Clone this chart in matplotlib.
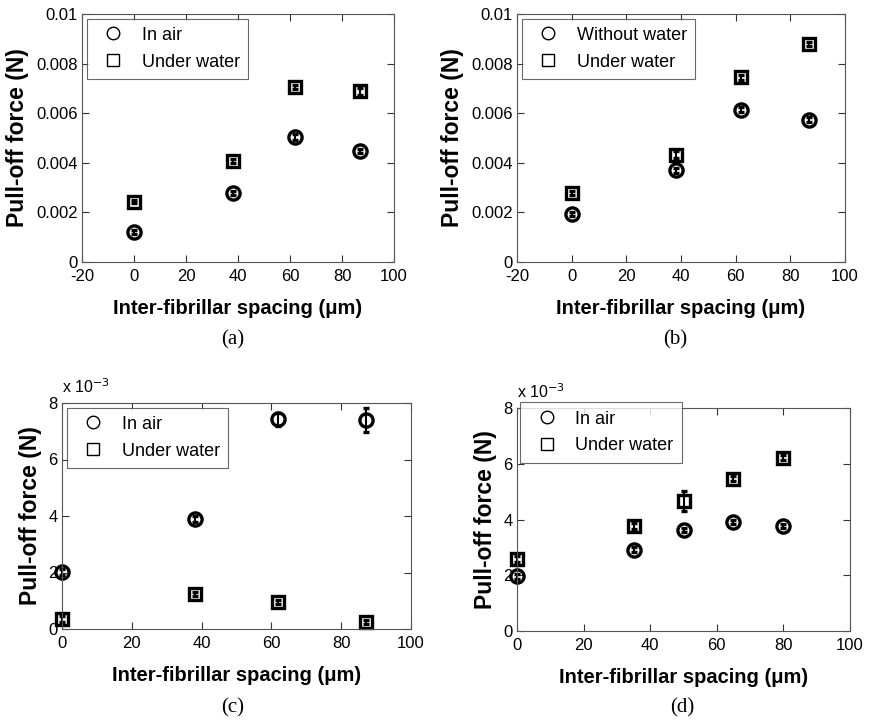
import matplotlib.pyplot as plt
import numpy as np

plt.rcParams['font.family'] = ['Liberation Sans', 'DejaVu Sans']
plt.rcParams['axes.unicode_minus'] = False

# -----------------------
# Data
# -----------------------
# (a)  force in N
xa = np.array([0, 38, 62, 87])
air_a = np.array([0.00121, 0.00280, 0.00505, 0.00446])
air_a_err = np.array([0.00008, 0.00008, 0.00012, 0.00008])
wat_a = np.array([0.00242, 0.00407, 0.00706, 0.00689])
wat_a_err = np.array([0.00006, 0.00008, 0.00008, 0.00014])

# (b)  force in N
xb = np.array([0, 38, 62, 87])
air_b = np.array([0.00193, 0.00369, 0.00613, 0.00573])
air_b_err = np.array([0.00008, 0.00012, 0.00010, 0.00010])
wat_b = np.array([0.00278, 0.00432, 0.00744, 0.00879])
wat_b_err = np.array([0.00008, 0.00014, 0.00012, 0.00010])

# (c)  force in 1e-3 N
xc = np.array([0, 38, 62, 87])
air_c = np.array([2.01, 3.90, 7.42, 7.40])
air_c_err = np.array([0.10, 0.10, 0.22, 0.43])
wat_c = np.array([0.36, 1.24, 0.96, 0.24])
wat_c_err = np.array([0.10, 0.08, 0.06, 0.08])

# (d)  force in 1e-3 N
xd = np.array([0, 35, 50, 65, 80])
air_d = np.array([1.96, 2.92, 3.62, 3.92, 3.77])
air_d_err = np.array([0.08, 0.08, 0.08, 0.08, 0.08])
wat_d = np.array([2.58, 3.77, 4.66, 5.47, 6.22])
wat_d_err = np.array([0.10, 0.10, 0.35, 0.08, 0.10])

W, H = 871, 721


def rect(l, t, r, b):
    return [l / W, 1 - b / H, (r - l) / W, (b - t) / H]


fig = plt.figure(figsize=(W / 100, H / 100), dpi=100)

panels = [
    (rect(82, 14, 394, 262), xa, air_a, air_a_err, wat_a, wat_a_err, 'In air',
     (-20, 100), (0, 0.01), [0, 0.002, 0.004, 0.006, 0.008, 0.01],
     ['0', '0.002', '0.004', '0.006', '0.008', '0.01'], '(a)', (233, 340), False),
    (rect(517, 14, 845, 262), xb, air_b, air_b_err, wat_b, wat_b_err, 'Without water',
     (-20, 100), (0, 0.01), [0, 0.002, 0.004, 0.006, 0.008, 0.01],
     ['0', '0.002', '0.004', '0.006', '0.008', '0.01'], '(b)', (675, 340), False),
    (rect(62, 403, 411, 629), xc, air_c, air_c_err, wat_c, wat_c_err, 'In air',
     (0, 100), (0, 8), [0, 2, 4, 6, 8], ['0', '2', '4', '6', '8'], '(c)', (233, 708), True),
    (rect(517, 408, 850, 631), xd, air_d, air_d_err, wat_d, wat_d_err, 'In air',
     (0, 100), (0, 8), [0, 2, 4, 6, 8], ['0', '2', '4', '6', '8'], '(d)', (682, 708), True),
]

for (r, x, air, air_err, wat, wat_err, lab, xl, yl, yt, ytl, cap, cpos, exp) in panels:
    ax = fig.add_axes(r)
    ax.errorbar(x, wat, yerr=wat_err, fmt='s', color='black', mfc='none',
                mec='black', ms=8.5, mew=2.4, capsize=2, elinewidth=1.5, clip_on=False)
    ax.errorbar(x, air, yerr=air_err, fmt='o', color='black', mfc='none',
                mec='black', ms=9.5, mew=2.4, capsize=2, elinewidth=1.5, clip_on=False)
    ax.set_xlim(*xl)
    ax.set_ylim(*yl)
    ax.set_xticks(np.arange(xl[0], xl[1] + 1, 20))
    ax.set_yticks(yt)
    ax.set_yticklabels(ytl)
    ax.tick_params(direction='in', top=True, right=True, length=5, labelsize=12,
                   color='#333333')
    ax.tick_params(axis='x', pad=5)
    ax.tick_params(axis='y', pad=3)
    for s in ax.spines.values():
        s.set_color('#555555')
        s.set_linewidth(0.8)
    ax.set_xlabel('Inter-fibrillar spacing (\u03bcm)', fontsize=14.5, fontweight='bold', labelpad=11)
    ax.set_ylabel('Pull-off force (N)', fontsize=16.5, fontweight='bold', labelpad=5)

    h1 = plt.Line2D([], [], ls='none', marker='o', mfc='none', mec='black', ms=9, mew=1)
    h2 = plt.Line2D([], [], ls='none', marker='s', mfc='none', mec='black', ms=8, mew=1)
    if cap == '(d)':
        leg = ax.legend([h1, h2], [lab, 'Under water'], loc='upper left',
                        bbox_to_anchor=(0.01, 1.025), fontsize=13, frameon=True,
                        fancybox=False, edgecolor='#444444', borderaxespad=0,
                        handletextpad=0.6, borderpad=0.45, labelspacing=0.55)
    else:
        leg = ax.legend([h1, h2], [lab, 'Under water'], loc='upper left',
                        fontsize=13, frameon=True, fancybox=False, edgecolor='#444444',
                        borderaxespad=0.25, handletextpad=0.6, borderpad=0.45,
                        labelspacing=0.55)
    leg.get_frame().set_linewidth(0.8)

    if exp:
        ax.text(0.0, 1.03, 'x 10$^{-3}$', transform=ax.transAxes, fontsize=11.5,
                ha='left', va='bottom')

    fig.text(cpos[0] / W, 1 - cpos[1] / H, cap, fontsize=15,
             family='Liberation Serif', ha='center', va='center')

fig.savefig('out.png', dpi=100)
